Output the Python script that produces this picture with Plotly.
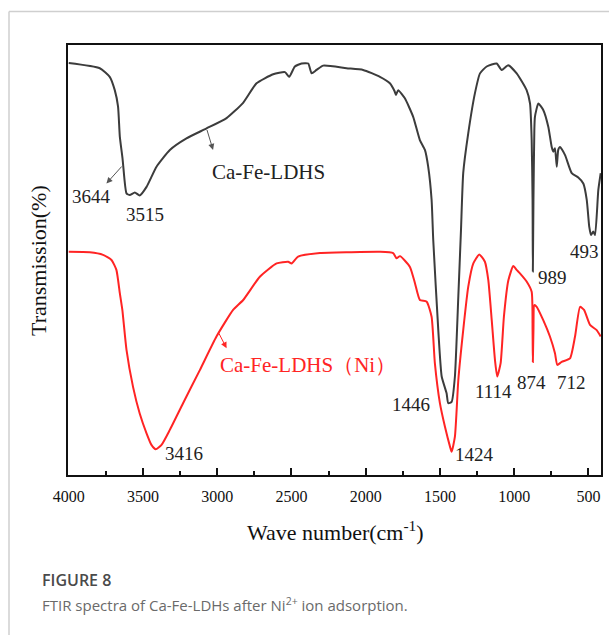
import plotly.graph_objects as go

# FTIR spectrum of the pristine Ca-Fe-LDHs (wavenumber in cm-1, transmission in arbitrary units)
ldh_wn = [4000, 3791, 3724, 3690, 3668, 3656, 3638, 3633, 3611, 3589, 3555, 3522, 3476,
          3409, 3319, 3207, 3072, 2937, 2827, 2735, 2623, 2544, 2515, 2477, 2432, 2387,
          2364, 2331, 2286, 2129, 2017, 1904, 1837, 1806, 1796, 1781, 1736, 1680, 1635,
          1601, 1579, 1556, 1545, 1511, 1488, 1455, 1444, 1421, 1399, 1376, 1358, 1343,
          1309, 1264, 1230, 1185, 1118, 1084, 1040, 983, 916, 893, 882, 876, 874, 870,
          864, 860, 837, 804, 770, 747, 736, 725, 713, 703, 691, 657, 612, 568, 534,
          511, 494, 482, 467, 455, 433, 417]
ldh_t = [95.8, 94.6, 92.6, 89.5, 85.7, 78.7, 73.7, 71.9, 65.5, 65.1, 65.7, 65.0, 67.0,
         71.7, 75.6, 78.3, 80.6, 83.0, 86.5, 91.1, 93.2, 93.7, 92.6, 95.0, 95.7, 95.7,
         93.4, 94.2, 95.2, 94.6, 94.2, 92.6, 91.1, 89.3, 88.4, 89.5, 87.6, 83.3, 77.9,
         75.6, 71.7, 64.0, 54.7, 33.7, 22.9, 19.0, 16.7, 17.0, 22.9, 41.5, 57.0, 70.2,
         79.5, 88.8, 93.4, 95.0, 95.7, 94.2, 95.3, 93.4, 89.5, 86.4, 77.9, 64.0, 47.3, 64.0,
         80.2, 83.3, 86.4, 84.9, 81.0, 76.3, 75.2, 76.0, 71.7, 75.6, 76.3, 74.4, 70.2, 69.2, 67.8,
         64.0, 57.7, 55.8, 56.6, 55.8, 66.3, 70.2]

# FTIR spectrum after Ni2+ adsorption
ni_wn = [4000, 3858, 3769, 3712, 3679, 3656, 3639, 3611, 3567, 3522, 3476, 3443, 3414,
         3375, 3319, 3230, 3117, 3005, 2893, 2825, 2713, 2600, 2522, 2499, 2455, 2308,
         2106, 1904, 1815, 1792, 1769, 1702, 1668, 1635, 1589, 1556, 1534, 1500, 1466,
         1432, 1421, 1399, 1376, 1343, 1309, 1275, 1235, 1197, 1174, 1151, 1129, 1114,
         1091, 1069, 1039, 1006, 983, 961, 916, 882, 876, 874, 870, 864, 848, 804, 759,
         725, 709, 680, 624, 590, 556, 529, 489, 444, 417]
ni_t = [51.9, 51.8, 51.2, 50.0, 47.7, 42.3, 38.4, 29.1, 20.5, 14.3, 9.7, 7.0, 6.0,
        7.0, 10.5, 16.7, 24.4, 32.2, 38.4, 40.7, 46.1, 49.2, 49.6, 49.2, 50.8, 51.6,
        51.8, 51.9, 51.6, 50.4, 50.9, 48.4, 44.6, 40.7, 40.3, 36.8, 26.0, 16.7, 11.2,
        6.6, 5.4, 8.9, 22.1, 33.7, 43.8, 49.2, 51.3, 49.6, 45.3, 36.0, 26.7, 22.9,
        26.0, 36.8, 45.3, 48.6, 47.7, 46.9, 45.0, 42.6, 33.7, 26.3, 33.7, 39.5, 39.1, 36.0, 32.2,
        28.3, 25.6, 26.3, 27.1, 32.2, 39.1, 38.4, 34.9, 33.7, 32.2]

# Peak labels: text, x (cm-1), y (transmission)
peak_text = ["3644", "3515", "989", "493", "3416", "1446", "1424", "1114", "874", "712"]
peak_x = [3845, 3488, 745, 529, 3225, 1695, 1264, 1136, 880, 617]
peak_y = [64.7, 60.5, 46.0, 51.9, 4.9, 16.5, 4.7, 19.5, 21.6, 21.6]

x_ticks = [4000, 3500, 3000, 2500, 2000, 1500, 1000, 500]
x_tick_text = ["4000", "3500", "3000", "2500", "2000", "1500", "1000", "500"]

SERIF = "Liberation Serif, serif"
BLACK_LINE = "#3c3c3c"
RED_LINE = "#ff2424"

fig = go.Figure()
fig.add_trace(go.Scatter(x=ldh_wn, y=ldh_t, mode="lines",
                         line=dict(color=BLACK_LINE, width=2, shape="spline", smoothing=0.5),
                         name="Ca-Fe-LDHS", hoverinfo="x+y"))
fig.add_trace(go.Scatter(x=ni_wn, y=ni_t, mode="lines",
                         line=dict(color=RED_LINE, width=2, shape="spline", smoothing=0.5),
                         name="Ca-Fe-LDHS (Ni)", hoverinfo="x+y"))

annotations = []
for t, x, y in zip(peak_text, peak_x, peak_y):
    annotations.append(dict(x=x, y=y, xref="x", yref="y", text=t, showarrow=False,
                            font=dict(family=SERIF, size=19, color="#222222"),
                            xanchor="center", yanchor="middle"))

# pointer arrows for the series labels
annotations.append(dict(x=3746, y=67.8, ax=3634, ay=72.1, xref="x", yref="y",
                        axref="x", ayref="y", text="", showarrow=True,
                        arrowhead=2, arrowsize=1.2, arrowwidth=1, arrowcolor="#555555"))
annotations.append(dict(x=3028, y=75.6, ax=3072, ay=80.6, xref="x", yref="y",
                        axref="x", ayref="y", text="", showarrow=True,
                        arrowhead=2, arrowsize=1.2, arrowwidth=1, arrowcolor="#555555"))
annotations.append(dict(x=2937, y=29.5, ax=2994, ay=33.3, xref="x", yref="y",
                        axref="x", ayref="y", text="", showarrow=True,
                        arrowhead=2, arrowsize=1.2, arrowwidth=1, arrowcolor=RED_LINE))
annotations.append(dict(x=3050, y=70.5, xref="x", yref="y", text="Ca-Fe-LDHS",
                        showarrow=False, xanchor="left", yanchor="middle",
                        font=dict(family=SERIF, size=21, color="#222222")))
annotations.append(dict(x=2996, y=25.6, xref="x", yref="y", text="Ca-Fe-LDHS（Ni）",
                        showarrow=False, xanchor="left", yanchor="middle",
                        font=dict(family=SERIF, size=21, color=RED_LINE)))

# axis titles
annotations.append(dict(x=0.501, y=-0.130, xref="paper", yref="paper",
                        text="Wave number(cm<sup>-1</sup>)", showarrow=False,
                        xanchor="center", yanchor="middle",
                        font=dict(family=SERIF, size=22, color="#111111")))
annotations.append(dict(x=-0.0563, y=0.5, xref="paper", yref="paper",
                        text="Transmission(%)", showarrow=False, textangle=-90,
                        xanchor="center", yanchor="middle",
                        font=dict(family=SERIF, size=22, color="#111111")))

# figure caption
annotations.append(dict(x=-0.0525, y=-0.244, xref="paper", yref="paper",
                        text="FIGURE 8", showarrow=False, xanchor="left", yanchor="middle",
                        font=dict(family="Open Sans", size=16, color="#4a4a4a",
                                  weight=600)))
annotations.append(dict(x=-0.0525, y=-0.302, xref="paper", yref="paper",
                        text="FTIR spectra of Ca-Fe-LDHs after Ni<sup>2+</sup> ion adsorption.",
                        showarrow=False, xanchor="left", yanchor="middle",
                        font=dict(family="Open Sans", size=15, color="#6a6a6a")))

# card outline around the figure
shapes = [
    dict(type="line", xref="paper", yref="paper", x0=-0.1107, y0=1.078, x1=1.02, y1=1.078,
         line=dict(color="#cfcfcf", width=1.5)),
    dict(type="line", xref="paper", yref="paper", x0=-0.1107, y0=1.078, x1=-0.1107, y1=-0.38,
         line=dict(color="#cfcfcf", width=1.5)),
]

fig.update_layout(
    template="none",
    width=609, height=635,
    margin=dict(l=68, r=8, t=45, b=160),
    paper_bgcolor="white", plot_bgcolor="white",
    showlegend=False,
    font=dict(family=SERIF, color="#111111"),
    annotations=annotations,
    shapes=shapes,
)
fig.update_xaxes(range=[4005, 415], tickmode="array", tickvals=x_ticks, ticktext=x_tick_text,
                 ticks="inside", ticklen=7, tickwidth=1.5, tickcolor="#111111",
                 minor=dict(dtick=250, tick0=0, ticks="inside", ticklen=4,
                            tickwidth=1.5, tickcolor="#111111"),
                 showline=True, linecolor="#111111", linewidth=2, mirror=True,
                 showgrid=False, zeroline=False, ticklabelstandoff=6,
                 tickfont_family="Liberation Serif", tickfont_size=16,
                 tickfont_color="#111111")
fig.update_yaxes(range=[0, 100], showticklabels=False, ticks="",
                 showline=True, linecolor="#111111", linewidth=2, mirror=True,
                 showgrid=False, zeroline=False)

fig.write_html("out.html")
